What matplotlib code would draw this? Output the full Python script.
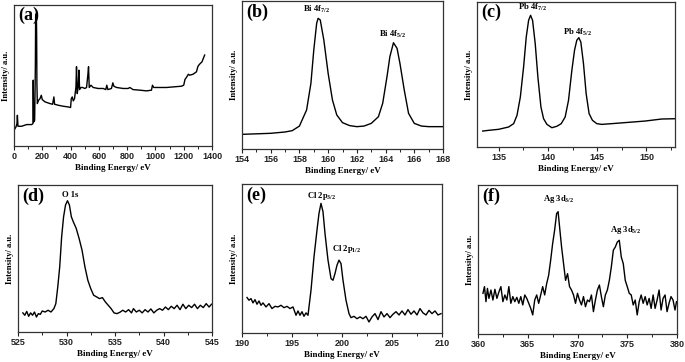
import matplotlib
matplotlib.use('Agg')
import matplotlib.pyplot as plt
from matplotlib.ticker import MultipleLocator

plt.rcParams.update({
    'font.family': 'Liberation Serif',
    'font.weight': 'bold',
    'mathtext.fontset': 'custom',
    'mathtext.rm': 'Liberation Serif:bold',
    'mathtext.it': 'Liberation Serif:bold',
    'mathtext.bf': 'Liberation Serif:bold',
    'axes.linewidth': 0.9,
    'axes.edgecolor': '#333333',
})

# (a) survey spectrum
a_ev = [0, 14, 21, 24, 28, 54, 89, 125, 134, 136, 139, 146, 151, 153, 158, 160, 162, 165,
        174, 184, 193, 200, 219, 254, 273, 282, 287, 313, 348, 384, 400, 405, 412, 419,
        428, 438, 442, 447, 454, 459, 464, 473, 485, 501, 513, 522, 527, 532, 544, 560,
        595, 631, 649, 656, 664, 689, 699, 706, 725, 772, 807, 819, 842, 889, 937, 972,
        979, 988, 1031, 1078, 1125, 1184, 1200, 1209, 1219, 1233, 1242, 1266, 1290, 1301,
        1313, 1329, 1348]
a_int = [11.1, 13.5, 15.9, 21.8, 14.0, 14.0, 15.2, 15.2, 15.9, 46.7, 17.1, 18.2, 56.2, 91.7,
         94.0, 79.9, 44.0, 30.1, 32.5, 33.6, 36.0, 32.9, 31.3, 30.1, 29.6, 34.8, 29.6, 28.9,
         28.2, 27.7, 27.3, 33.6, 34.8, 32.0, 33.6, 41.9, 56.2, 37.2, 41.9, 53.8, 40.0, 41.5,
         41.5, 40.8, 41.5, 50.2, 56.2, 41.5, 43.1, 41.5, 40.8, 40.8, 40.0, 43.1, 40.0, 40.8,
         44.8, 42.4, 41.5, 40.8, 40.8, 41.5, 40.0, 39.6, 39.1, 39.6, 43.1, 41.5, 41.5, 41.5,
         41.9, 42.4, 43.1, 47.2, 48.6, 50.9, 50.2, 50.9, 52.6, 56.6, 58.1, 59.7, 64.5]

# (b) Bi 4f
b_ev = [154.0, 156.0, 157.0, 157.5, 158.0, 158.5, 158.8, 159.0, 159.2, 159.3, 159.45, 159.7,
        160.0, 160.3, 160.6, 161.0, 161.5, 162.0, 162.5, 163.0, 163.5, 163.8, 164.1, 164.3,
        164.55, 164.8, 165.0, 165.3, 165.6, 166.0, 166.5, 167.0, 168.0]
b_int = [9.9, 10.6, 11.5, 12.4, 15.5, 26.4, 44.4, 66.9, 84.9, 88.3, 87.2, 73.6, 51.1, 33.1,
         23.0, 17.8, 15.8, 15.1, 15.5, 17.3, 21.8, 30.9, 48.9, 62.4, 71.8, 68.0, 57.9, 39.9,
         24.1, 17.3, 15.5, 15.1, 15.1]

# (c) Pb 4f
c_ev = [133.38, 133.99, 135.0, 136.01, 136.52, 136.86, 137.2, 137.53, 137.8, 138.04, 138.24,
        138.44, 138.71, 138.98, 139.29, 139.56, 139.9, 140.4, 140.91, 141.35, 141.75, 142.09,
        142.43, 142.7, 142.93, 143.14, 143.34, 143.61, 143.88, 144.18, 144.52, 144.96, 145.47,
        146.48, 148.17, 149.86, 151.55, 152.9]
c_int = [11.0, 11.5, 12.2, 13.8, 16.1, 21.8, 34.5, 55.2, 75.9, 87.4, 90.8, 87.4, 71.3, 48.3,
         27.6, 19.5, 15.6, 13.3, 14.3, 16.1, 20.7, 32.2, 52.9, 66.7, 73.6, 75.4, 72.4, 57.5,
         36.8, 23.0, 18.4, 16.1, 15.6, 16.1, 17.0, 17.9, 19.3, 19.5]

# (d) O 1s
d_ev = [525.5, 525.7, 525.9, 526.1, 526.3, 526.5, 526.7, 526.9, 527.1, 527.3, 527.5, 527.8,
        528.1, 528.4, 528.7, 528.9, 529.1, 529.3, 529.5, 529.7, 529.9, 530.1, 530.3, 530.5,
        530.7, 531.0, 531.3, 531.6, 531.9, 532.2, 532.5, 532.8, 533.1, 533.4, 533.7, 534.0,
        534.3, 534.6, 534.9, 535.2, 535.5, 535.8, 536.1, 536.4, 536.7, 536.9, 537.2, 537.5,
        537.8, 538.1, 538.4, 538.7, 539.0, 539.3, 539.6, 539.9, 540.2, 540.5, 540.8, 541.1,
        541.4, 541.7, 542.0, 542.3, 542.6, 542.9, 543.2, 543.5, 543.8, 544.1, 544.4, 544.7,
        544.95]
d_int = [13.0, 11.4, 14.0, 10.7, 13.0, 11.4, 13.6, 10.2, 12.5, 12.0, 14.3, 13.6, 14.8, 13.6,
         15.9, 19.3, 30.7, 44.3, 64.8, 78.4, 86.4, 89.3, 86.4, 78.4, 75.0, 70.5, 63.6, 55.7,
         44.3, 35.2, 29.5, 25.0, 23.9, 22.7, 23.4, 20.5, 18.2, 15.9, 13.0, 12.5, 13.4, 14.8,
         13.6, 15.2, 13.0, 15.9, 13.6, 14.8, 13.0, 15.2, 13.6, 15.7, 13.0, 14.8, 15.9, 14.8,
         17.0, 15.2, 17.5, 15.9, 18.2, 15.2, 18.9, 15.9, 18.2, 16.6, 18.9, 15.9, 18.2, 16.6,
         19.3, 17.0, 18.9]

# (e) Cl 2p
e_ev = [190.5, 190.7, 190.9, 191.1, 191.3, 191.5, 191.7, 191.9, 192.1, 192.4, 192.7, 193.0,
        193.3, 193.6, 193.9, 194.2, 194.5, 194.8, 195.1, 195.4, 195.6, 195.8, 196.0, 196.2,
        196.4, 196.6, 196.9, 197.2, 197.5, 197.7, 197.9, 198.1, 198.3, 198.6, 198.9, 199.1,
        199.3, 199.5, 199.7, 199.9, 200.1, 200.4, 200.7, 200.9, 201.2, 201.5, 201.8, 202.1,
        202.4, 202.7, 203.0, 203.3, 203.6, 203.9, 204.2, 204.5, 204.8, 205.1, 205.4, 205.7,
        206.0, 206.3, 206.6, 206.9, 207.2, 207.5, 207.8, 208.1, 208.4, 208.7, 209.0, 209.3,
        209.6, 209.9]
e_int = [23.8, 22.0, 23.1, 20.2, 22.4, 19.3, 21.5, 18.6, 20.2, 17.5, 19.7, 16.4, 17.9, 17.5,
         18.6, 17.0, 17.9, 16.4, 17.5, 11.9, 14.8, 11.9, 14.3, 11.2, 13.5, 11.9, 28.7, 51.1,
         69.1, 80.3, 87.0, 81.4, 66.8, 48.9, 36.5, 35.4, 39.9, 45.5, 48.9, 46.6, 35.4, 22.0,
         13.0, 10.3, 11.2, 9.6, 10.8, 9.6, 11.2, 7.4, 10.8, 13.0, 9.0, 14.3, 10.8, 13.0, 10.3,
         12.6, 14.3, 12.1, 14.8, 12.1, 15.7, 12.6, 14.8, 12.1, 16.4, 13.5, 12.1, 15.2, 13.0,
         14.8, 12.1, 13.0]

# (f) Ag 3d
f_ev = [360.5, 360.65, 360.8, 360.95, 361.1, 361.3, 361.5, 361.7, 361.9, 362.1, 362.3, 362.5,
        362.7, 362.9, 363.1, 363.3, 363.5, 363.7, 363.9, 364.1, 364.3, 364.5, 364.7, 364.9,
        365.1, 365.3, 365.5, 365.7, 365.9, 366.1, 366.3, 366.5, 366.7, 366.9, 367.1, 367.3,
        367.5, 367.7, 367.9, 368.05, 368.2, 368.4, 368.6, 368.8, 369.0, 369.2, 369.4, 369.6,
        369.8, 370.0, 370.2, 370.4, 370.6, 370.8, 371.0, 371.2, 371.4, 371.6, 371.8, 372.0,
        372.2, 372.4, 372.6, 372.8, 373.0, 373.2, 373.4, 373.6, 373.8, 374.0, 374.2, 374.4,
        374.6, 374.8, 375.0, 375.2, 375.4, 375.6, 375.8, 376.0, 376.2, 376.4, 376.6, 376.8,
        377.0, 377.2, 377.4, 377.6, 377.8, 378.0, 378.2, 378.4, 378.6, 378.8, 379.0, 379.2,
        379.4, 379.6, 379.8, 379.95]
f_int = [27.3, 31.8, 21.7, 30.6, 23.9, 29.5, 22.8, 30.0, 23.9, 28.2, 31.8, 21.7, 26.2, 22.8,
         31.8, 20.6, 25.1, 21.7, 24.6, 20.6, 25.1, 19.5, 26.2, 23.9, 20.6, 17.2, 12.8, 22.8,
         26.2, 20.6, 26.2, 31.8, 26.2, 33.8, 39.4, 49.4, 60.6, 69.6, 80.8, 82.1, 71.8, 58.4,
         47.2, 36.0, 40.5, 31.8, 29.5, 26.2, 20.6, 27.3, 22.8, 19.5, 25.1, 18.3, 22.8, 21.7,
         26.2, 15.0, 22.8, 29.5, 32.9, 25.1, 18.3, 26.2, 29.5, 36.0, 45.0, 56.2, 58.4, 61.7,
         62.9, 51.7, 47.2, 36.0, 31.8, 27.3, 26.2, 19.5, 22.8, 12.8, 21.7, 26.2, 20.6, 25.1,
         19.5, 23.9, 17.2, 26.2, 17.2, 22.8, 29.5, 16.1, 23.9, 26.2, 15.0, 20.6, 25.1, 22.8,
         16.1, 21.7]

W, H = 685, 362
fig = plt.figure(figsize=(W / 100, H / 100), dpi=100)


def box(l, r, t, b):
    return [l / W, (H - b) / H, (r - l) / W, (b - t) / H]


panels = [
    ('(a)', box(14, 212, 5, 146), a_ev, a_int, (0, 1400), 200, 100, []),
    ('(b)', box(242, 443, 1, 149), b_ev, b_int, (154, 168), 2, 1,
     [(r'Bi 4f$_{7/2}$', 159.2, 94), (r'Bi 4f$_{5/2}$', 164.5, 77.5)]),
    ('(c)', box(477, 675, 2, 147), c_ev, c_int, (132.8, 152.9), 5, 2.5,
     [(r'Pb 4f$_{7/2}$', 138.4, 96), (r'Pb 4f$_{5/2}$', 143.0, 79)]),
    ('(d)', box(18, 212, 185, 332), d_ev, d_int, (525, 545), 5, 2.5,
     [('O 1s', 530.4, 93.5)]),
    ('(e)', box(242, 442, 184, 333), e_ev, e_int, (190, 210), 5, 2.5,
     [(r'Cl 2p$_{3/2}$', 198.0, 92), (r'Cl 2p$_{1/2}$', 200.5, 56.5)]),
    ('(f)', box(478, 677, 185, 334), f_ev, f_int, (360, 380), 5, 2.5,
     [(r'Ag 3d$_{3/2}$', 368.1, 90.5), (r'Ag 3d$_{5/2}$', 374.8, 69.5)]),
]

for tag, rect, xs, ys, xlim, major, minor, notes in panels:
    ax = fig.add_axes(rect)
    ax.plot(xs, ys, color='black', lw=1.0)
    ax.set_xlim(*xlim)
    ax.set_ylim(0, 100)
    ax.xaxis.set_major_locator(MultipleLocator(major))
    ax.xaxis.set_minor_locator(MultipleLocator(minor))
    ax.set_yticks([])
    ax.tick_params(axis='x', which='major', direction='out', length=3, width=0.8,
                   labelsize=6.5, pad=1.5, colors='#222222')
    ax.tick_params(axis='x', which='minor', direction='out', length=2, width=0.6)
    for lbl in ax.get_xticklabels():
        lbl.set_family('Liberation Sans')
        lbl.set_weight('bold')
    ax.set_xlabel('Binding Energy/ eV', fontsize=6.5, fontweight='bold', labelpad=2)
    ax.set_ylabel('Intensity/ a.u.', fontsize=6.2, fontweight='bold', labelpad=3)
    ax.text(0.02, 0.985, tag, transform=ax.transAxes, fontsize=13, fontweight='bold',
            va='top', ha='left')
    for txt, x, y in notes:
        ax.text(x, y, txt, fontsize=6.2, fontweight='bold', ha='center', va='center')

fig.savefig('out.png', dpi=100)
